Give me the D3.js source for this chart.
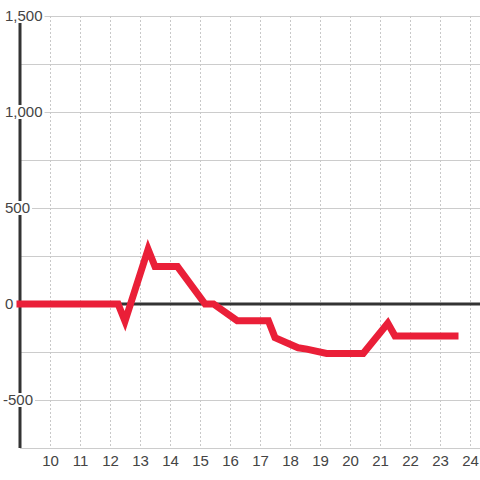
<!DOCTYPE html>
<html>
<head>
<meta charset="utf-8">
<script src="https://cdn.jsdelivr.net/npm/d3@7/dist/d3.min.js"></script>
<style>
  html, body { margin: 0; padding: 0; background: #fff; }
  svg { display: block; }
  text { font-family: "Liberation Sans", Arial, sans-serif; }
</style>
</head>
<body>
<svg id="chart" width="480" height="480"></svg>
<script>
// ---- data ----
const hours  = [9, 12.27, 12.5, 13.27, 13.5, 14.25, 15.17, 15.45, 16.24, 17.28, 17.5, 18.27, 18.56, 19.22, 20.44, 21.26, 21.5, 23.5];
const values = [0, 0, -90, 285, 195, 195, 0, 0, -87, -87, -175, -228, -235, -258, -258, -100, -167, -167];
const xTickValues = [10, 11, 12, 13, 14, 15, 16, 17, 18, 19, 20, 21, 22, 23, 24];
const yGridValues = [-750, -500, -250, 0, 250, 500, 750, 1000, 1250, 1500];
const yLabelValues = [-500, 0, 500, 1000, 1500];

(function () {
const W = 480, H = 480;
const mLeft = 20, mRight = 480, mTop = 16, mBottom = 448;

const x = d3.scaleLinear().domain([9, 24.3333]).range([mLeft, mRight]);
const y = d3.scaleLinear().domain([-750, 1500]).range([mBottom, mTop]);

const svg = d3.select("#chart");
svg.append("rect").attr("width", W).attr("height", H).attr("fill", "#fff");

// horizontal gridlines
svg.append("g").selectAll("line").data(yGridValues.filter(v => v !== 0)).join("line")
  .attr("x1", mLeft).attr("x2", mRight)
  .attr("y1", d => Math.round(y(d)) + 0.5).attr("y2", d => Math.round(y(d)) + 0.5)
  .attr("stroke", "#cccccc").attr("stroke-width", 1);

// vertical dotted gridlines
svg.append("g").selectAll("line").data(xTickValues).join("line")
  .attr("x1", d => Math.round(x(d)) + 0.5).attr("x2", d => Math.round(x(d)) + 0.5)
  .attr("y1", mTop).attr("y2", mBottom)
  .attr("stroke", "#c8c8c8").attr("stroke-width", 1).attr("stroke-dasharray", "2,2");

// zero line
svg.append("line")
  .attr("x1", mLeft).attr("x2", mRight)
  .attr("y1", y(0)).attr("y2", y(0))
  .attr("stroke", "#333").attr("stroke-width", 3);

// y axis line
svg.append("line")
  .attr("x1", mLeft).attr("x2", mLeft)
  .attr("y1", mTop).attr("y2", mBottom)
  .attr("stroke", "#333").attr("stroke-width", 3);

// x axis labels
const xAxis = d3.axisBottom(x).tickValues(xTickValues).tickSize(0).tickPadding(0).tickFormat(d3.format("d"));
const gx = svg.append("g").attr("transform", `translate(0,${mBottom})`).call(xAxis);
gx.select(".domain").remove();
gx.selectAll("text")
  .attr("dy", null).attr("y", 18)
  .attr("font-size", 15).attr("fill", "#444")
  .attr("font-family", "Liberation Sans, Arial, sans-serif");

// y labels with white background
const fmt = d3.format(",");
const gy = svg.append("g");
const lbl = gy.selectAll("g").data(yLabelValues).join("g")
  .attr("transform", d => `translate(5,${y(d)})`);
lbl.append("text")
  .attr("x", d => d < 0 ? -2 : 0)
  .attr("dy", "0.35em")
  .attr("font-size", 15).attr("fill", "#444")
  .text(d => fmt(d).replace("−", "-"));
lbl.each(function() {
  const g = d3.select(this);
  const bb = g.select("text").node().getBBox();
  g.insert("rect", "text")
    .attr("x", bb.x - 2).attr("y", -7)
    .attr("width", bb.width + 4).attr("height", 14)
    .attr("fill", "#fff");
});

// data line
const line = d3.line().x((d, i) => x(hours[i])).y(d => y(d));
svg.append("path")
  .datum(values)
  .attr("d", line)
  .attr("fill", "none")
  .attr("stroke", "#ea1f38")
  .attr("stroke-width", 7)
  .attr("stroke-linejoin", "miter")
  .attr("stroke-linecap", "square");
})();
</script>
</body>
</html>
